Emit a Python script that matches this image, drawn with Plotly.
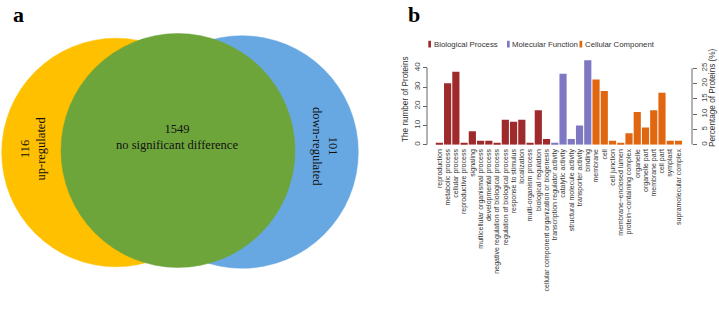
import plotly.graph_objects as go

# ---------------- data ----------------
venn_counts = [116, 1549, 101]
venn_labels = ["up-regulated", "no significant difference", "down-regulated"]

bp_terms = ["reproduction", "metabolic process", "cellular process", "reproductive process",
            "signaling", "multicellular organismal process", "developmental process",
            "negative regulation of biological process", "regulation of biological process",
            "response to stimulus", "localization", "multi-organism process",
            "biological regulation", "cellular component organization or biogenesis"]
bp_values = [1, 32, 38, 1, 7, 2, 2, 1, 13, 12, 13, 1, 18, 3]

mf_terms = ["transcription regulator activity", "catalytic activity",
            "structural molecule activity", "transporter activity", "binding"]
mf_values = [1, 37, 3, 10, 44]

cc_terms = ["membrane", "cell", "cell junction", "membrane\u2212enclosed lumen",
            "protein\u2212containing complex", "organelle", "organelle part",
            "membrane part", "cell part", "symplast", "supramolecular complex"]
cc_values = [34, 28, 2, 1, 6, 17, 9, 18, 27, 2, 2]

groups = ["Biological Process", "Molecular Function", "Cellular Component"]
left_ticks = [0, 10, 20, 30, 40]
right_ticks = [0, 5, 10, 15, 20, 25]
count_per_percent = 1.5917  # ratio between left and right axis scales

# ---------------- styling ----------------
W, H = 719, 310
group_colors = {"Biological Process": "#9E2A2B",
                "Molecular Function": "#7E78C2",
                "Cellular Component": "#E0670F"}
venn_colors = ["#FFC000", "#6DA53B", "#68A8E2"]


def px(x):
    return x / W


def py(y):
    return 1 - y / H


terms = bp_terms + mf_terms + cc_terms
values = bp_values + mf_values + cc_values
colors = ([group_colors[groups[0]]] * len(bp_terms) +
          [group_colors[groups[1]]] * len(mf_terms) +
          [group_colors[groups[2]]] * len(cc_terms))

fig = go.Figure()
fig.add_trace(go.Bar(x=terms, y=values, marker=dict(color=colors, line=dict(width=0)),
                     showlegend=False, hoverinfo="x+y"))
# invisible trace to activate the right axis
fig.add_trace(go.Scatter(x=[terms[0]], y=[0], yaxis="y2", mode="markers",
                         marker=dict(opacity=0), showlegend=False, hoverinfo="skip"))

y_top = 46
ax_left, ax_right = 427, 692
y_bottom_px = 144.7
px_per_count = 1.92
y_top_px = y_bottom_px - y_top * px_per_count

tick_font = dict(family="Liberation Sans, Arial, sans-serif", size=8, color="#444")

fig.update_layout(
    width=W, height=H, margin=dict(l=0, r=0, t=0, b=0, autoexpand=False),
    paper_bgcolor="white", plot_bgcolor="white",
    bargap=0.13,
    xaxis=dict(domain=[px(ax_left), px(ax_right)], range=[-1.5, len(terms) - 1 + 1.64],
               type="category", categoryorder="array", categoryarray=terms,
               tickangle=-90, tickfont=dict(family="Liberation Sans, Arial, sans-serif",
                                            size=7, color="#333"),
               showline=False, showgrid=False, zeroline=False, ticks="",
               ticklabelstandoff=2, fixedrange=True, automargin=False),
    yaxis=dict(domain=[py(y_bottom_px), py(y_top_px)], range=[0, y_top],
               tickvals=left_ticks, tickangle=-90, tickfont=tick_font,
               ticks="outside", ticklen=4, tickcolor="#666", showline=False,
               showgrid=False, zeroline=False, anchor="free", position=px(ax_left),
               automargin=False),
    yaxis2=dict(overlaying="y", side="right", range=[0, y_top / count_per_percent],
                tickvals=right_ticks, tickangle=-90, tickfont=tick_font,
                ticks="outside", ticklen=4, tickcolor="#666", showline=False,
                showgrid=False, zeroline=False, anchor="free", position=px(ax_right),
                automargin=False),
    xaxis3=dict(domain=[0, 360 / W], range=[0, 360], visible=False, fixedrange=True,
                automargin=False),
    yaxis3=dict(domain=[0, 1], range=[H, 0], visible=False, fixedrange=True, anchor="x3",
                automargin=False),
)

shapes = []
# R-style axis lines
shapes.append(dict(type="line", xref="paper", yref="y", x0=px(ax_left), x1=px(ax_left),
                   y0=left_ticks[0], y1=left_ticks[-1], line=dict(color="#666", width=1)))
shapes.append(dict(type="line", xref="paper", yref="y2", x0=px(ax_right), x1=px(ax_right),
                   y0=right_ticks[0], y1=right_ticks[-1], line=dict(color="#666", width=1)))

# Venn circles (geometry in panel pixel units): yellow, blue, then green on top
venn_geom = [(116, 152.5, 114.3), (178, 150.5, 117), (242, 152, 116.3)]
for idx in [0, 2, 1]:
    cx, cy, r = venn_geom[idx]
    shapes.append(dict(type="circle", xref="x3", yref="y3", x0=cx - r, x1=cx + r,
                       y0=cy - r, y1=cy + r, fillcolor=venn_colors[idx],
                       line=dict(color=venn_colors[idx], width=0.5), layer="below"))

# legend keys
legend_x = [428.3, 507.0, 579.5]
for g, lx in zip(groups, legend_x):
    shapes.append(dict(type="rect", xref="paper", yref="paper", x0=px(lx), x1=px(lx + 2.7),
                       y0=py(47.5), y1=py(40.8), fillcolor=group_colors[g], line=dict(width=0)))
fig.update_layout(shapes=shapes)

annotations = []
serif = "Liberation Serif, Times New Roman, serif"
sans = "Liberation Sans, Arial, sans-serif"
C = dict(xanchor="center", yanchor="middle", showarrow=False)
# panel letters
annotations.append(dict(text="<b>a</b>", x=px(18), y=1, xref="paper", yref="paper",
                        xanchor="center", yanchor="top", showarrow=False,
                        font=dict(family=serif, size=22, color="black")))
annotations.append(dict(text="<b>b</b>", x=px(414), y=1, xref="paper", yref="paper",
                        xanchor="center", yanchor="top", showarrow=False,
                        font=dict(family=serif, size=22, color="black")))
# Venn texts
vfont = dict(family=serif, size=12.5, color="#111")
annotations.append(dict(text=f"{venn_counts[1]}<br>{venn_labels[1]}", x=177, y=136.5,
                        xref="x3", yref="y3", font=vfont, **C))
annotations.append(dict(text=f"{venn_counts[0]}<br>{venn_labels[0]}", x=32.5, y=149,
                        xref="x3", yref="y3", textangle=-90, font=vfont, **C))
annotations.append(dict(text=f"{venn_counts[2]}<br>{venn_labels[2]}", x=325, y=146,
                        xref="x3", yref="y3", textangle=90, font=vfont, **C))
# legend texts
for g, lx in zip(groups, legend_x):
    annotations.append(dict(text=g, x=px(lx + 3.4), y=py(44.3), xref="paper", yref="paper",
                            xanchor="left", yanchor="middle", showarrow=False,
                            font=dict(family=sans, size=7.8, color="#333")))
# axis titles
annotations.append(dict(text="The number of Proteins", x=px(405), y=py(99), xref="paper",
                        yref="paper", textangle=-90,
                        font=dict(family=sans, size=8.2, color="#333"), **C))
annotations.append(dict(text="Percentage of Proteins (%)", x=px(712), y=py(98), xref="paper",
                        yref="paper", textangle=-90,
                        font=dict(family=sans, size=8.2, color="#333"), **C))
fig.update_layout(annotations=annotations)

fig.write_html("out.html", config={"displayModeBar": False},
               post_script="document.body.style.margin='0';document.body.style.overflow='hidden';")
